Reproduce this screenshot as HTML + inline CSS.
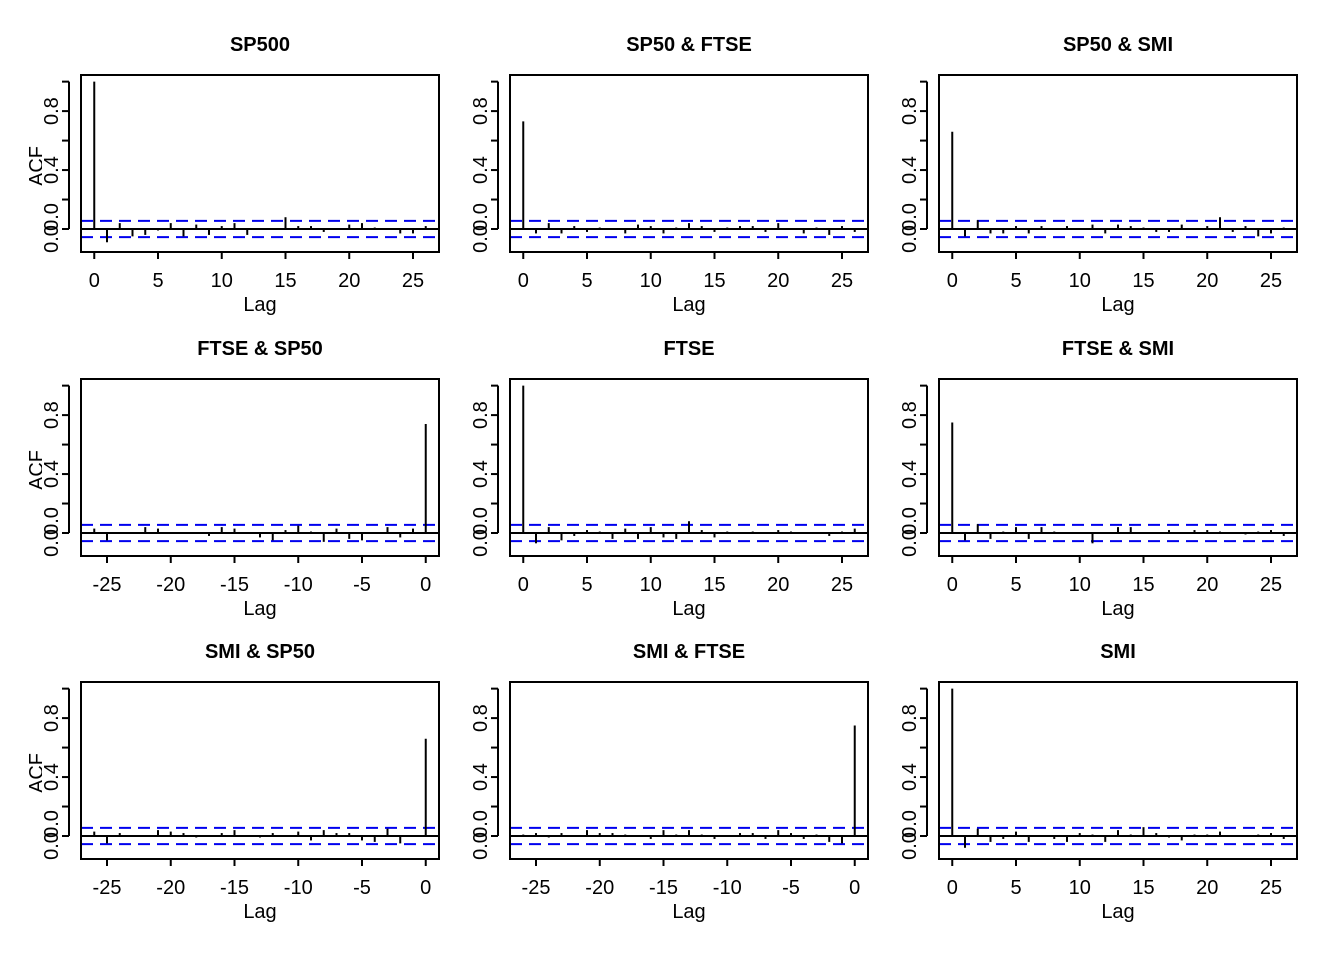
<!DOCTYPE html>
<html><head><meta charset="utf-8"><style>
html,body{margin:0;padding:0;background:#fff}
svg{display:block;font-family:"Liberation Sans",Arial,sans-serif}
</style></head><body>
<svg id="chart" width="1344" height="960" viewBox="0 0 1344 960"></svg>
<script>
const titles=["SP500","SP50 & FTSE","SP50 & SMI","FTSE & SP50","FTSE","FTSE & SMI","SMI & SP50","SMI & FTSE","SMI"];
const crossPanels=[false,false,false,true,false,false,true,true,false];
const acf1=[1,-0.09,0.04,-0.05,-0.04,-0.01,0.04,-0.05,0.03,-0.04,0.02,0.04,-0.04,0,0,0.08,0.02,0.02,-0.02,0,0.03,0.04,0.01,0,-0.03,-0.03,0.02];
const acf2=[0.73,-0.03,0.04,-0.03,0.02,-0.02,0.01,0,-0.03,0.03,0.02,-0.03,0.01,0.04,0.02,-0.02,0.01,0.02,0.02,-0.02,0.04,0,-0.03,0.01,-0.04,0.02,-0.02];
const acf3=[0.66,-0.05,0.06,-0.03,-0.03,0.02,-0.03,0.02,0,0.02,0,0.03,-0.03,0.03,0.02,0.01,-0.02,-0.02,0.03,0,0.02,0.08,-0.02,0.02,-0.05,-0.03,0.01];
const acf4=[0.03,-0.05,0,0,0.04,0.03,0,0,0,-0.02,0.04,0.03,0,-0.03,-0.05,0.02,0.05,0.01,-0.06,0.03,-0.04,-0.05,0,0.04,-0.03,0.03,0.74];
const acf5=[1,-0.07,0.04,-0.05,-0.02,0.02,0.01,-0.04,0.03,-0.04,0.04,-0.03,-0.04,0.08,0.02,-0.03,0.01,0,0.01,0,0.02,0.01,0,0,-0.02,0.01,0.03];
const acf6=[0.75,-0.05,0.06,-0.04,0.01,0.04,-0.04,0.04,0.01,0,0,-0.07,0,0.04,0.04,0,0,0.02,0,0.02,0.02,0.01,0,-0.01,0.01,0.02,-0.02];
const acf7=[0.03,-0.05,0.02,0,0,0.04,0.03,0.02,-0.01,0,0.02,0.04,0,-0.01,0.02,0,0.03,-0.03,0.04,0.02,0.02,-0.03,-0.04,0.05,-0.05,0,0.66];
const acf8=[0.01,0.02,-0.01,0.02,0,0.04,0.02,0.02,0.01,0,-0.02,0.04,0.01,0.04,0.01,-0.02,0,0.02,0.02,-0.02,0.04,0.02,-0.02,0.01,-0.04,-0.05,0.75];
const acf9=[1,-0.08,0.05,-0.04,-0.02,0.03,-0.04,0,-0.02,-0.04,0.02,0.01,-0.04,0.04,0.01,0.06,0.02,-0.01,-0.03,0.01,0.01,0.03,0,0,0.01,0.02,-0.02];
const series=[acf1,acf2,acf3,acf4,acf5,acf6,acf7,acf8,acf9];
const ciLimit=0.055;
const autoTicks=[0,5,10,15,20,25];
const crossTicks=[-25,-20,-15,-10,-5,0];
const yTicks=[0,0.2,0.4,0.6,0.8,1.0];

const NS="http://www.w3.org/2000/svg";
const svg=document.getElementById('chart');
function mk(tag,attrs,parent){const e=document.createElementNS(NS,tag);for(const k in attrs)e.setAttribute(k,attrs[k]);(parent||svg).appendChild(e);return e;}
const defs=mk('defs',{});
const cp=mk('clipPath',{id:'acfclip',clipPathUnits:'userSpaceOnUse'},defs);
mk('rect',{x:0,y:0,width:42,height:960},cp);
const colX=[81,510,939], rowY=[75,379,682], PW=358, PH=177;
const YMIN=-0.156, YMAX=1.045;

series.forEach((vals,i)=>{
  const col=i%3,row=Math.floor(i/3);
  const x0=colX[col],y0=rowY[row];
  const cross=crossPanels[i];
  const n=vals.length;
  const lagStart=cross?-(n-1):0;
  const xmin=lagStart-1.04,xmax=lagStart+(n-1)+1.04;
  const sx=l=>x0+(l-xmin)/(xmax-xmin)*PW;
  const sy=v=>y0+PH-(v-YMIN)/(YMAX-YMIN)*PH;
  const g=mk('g',{});
  
  
  const t=mk('text',{x:x0+PW/2,y:y0-24,'text-anchor':'middle','font-size':20,'font-weight':'bold'},g);
  t.textContent=titles[i];
  
  
  const zl=mk('line',{x1:x0,x2:x0+PW,y1:sy(0),y2:sy(0),stroke:'#000','stroke-width':2},g);
  
  
  [ciLimit,-ciLimit].forEach(c=>{
    const l=mk('line',{x1:x0,x2:x0+PW,y1:sy(c),y2:sy(c),stroke:'#0000ee','stroke-width':2,'stroke-dasharray':'12 7'},g);
    
    
  });
  vals.forEach((v,k)=>{
    const lag=lagStart+k;
    const b=mk('line',{x1:sx(lag),x2:sx(lag),y1:sy(0),y2:sy(v),stroke:'#000','stroke-width':2},g);
    
    
  });
  const box=mk('rect',{x:x0,y:y0,width:PW,height:PH,fill:'none',stroke:'#000','stroke-width':2},g);
  
  
  (cross?crossTicks:autoTicks).forEach(tv=>{
    mk('line',{x1:sx(tv),x2:sx(tv),y1:y0+PH,y2:y0+PH+7,stroke:'#000','stroke-width':2},g);
    const tl=mk('text',{x:sx(tv),y:y0+PH+35,'text-anchor':'middle','font-size':20},g);
    tl.textContent=tv;
    
    
  });
  const xl=mk('text',{x:x0+PW/2,y:y0+PH+59,'text-anchor':'middle','font-size':20},g);
  xl.textContent='Lag';
  
  
  mk('line',{x1:x0-12,x2:x0-12,y1:sy(0),y2:sy(1),stroke:'#000','stroke-width':2},g);
  yTicks.forEach(tv=>{
    mk('line',{x1:x0-12,x2:x0-19,y1:sy(tv),y2:sy(tv),stroke:'#000','stroke-width':2},g);
  });
  if(col===0){
    const cg=mk('g',{'clip-path':'url(#acfclip)'},g);
    const a=mk('text',{x:0,y:0,'text-anchor':'middle','font-size':20,transform:`translate(${x0-38},${y0+91}) rotate(-90)`},cg);
    a.textContent='ACF';
    
    
  }
  [[0.8,sy(0.8)],[0.4,sy(0.4)],[0,sy(0)-12],[0,sy(0)+10]].forEach(([v,yy])=>{
    const yl=mk('text',{x:0,y:0,'text-anchor':'middle','font-size':20,transform:`translate(${x0-23},${yy}) rotate(-90)`},g);
    yl.textContent=v.toFixed(1);
    
    
  });
});
</script>
</body></html>
